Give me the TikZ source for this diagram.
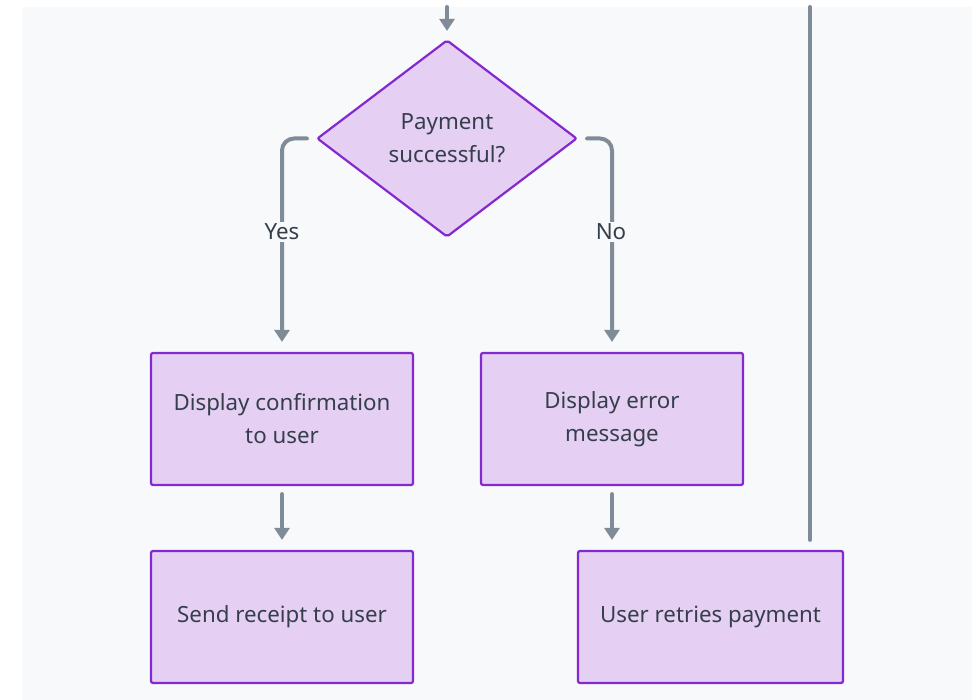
\documentclass[tikz,border=0pt]{standalone}
\usepackage{fontspec}
\setmainfont{Noto Sans}
\usetikzlibrary{arrows.meta,shapes.geometric,calc}
\definecolor{panel}{HTML}{F8F9FA}
\definecolor{nodefill}{HTML}{E5D0F4}
\definecolor{nodeline}{HTML}{8428D0}
\definecolor{edge}{HTML}{7F8B97}
\definecolor{txt}{HTML}{353E4B}
\tikzset{
  box/.style={draw=nodeline,fill=nodefill,line width=2.2pt,rounded corners=2pt,
    minimum width=262pt,minimum height=132pt,inner sep=0pt,align=center,
    text=txt,font=\fontsize{22.3}{33}\selectfont},
  decision/.style={draw=nodeline,fill=nodefill,line width=2.2pt,diamond,
    minimum width=260pt,minimum height=197pt,inner sep=0pt,align=center,aspect=1.32,
    text=txt,font=\fontsize{22.3}{33}\selectfont,rounded corners=2pt},
  conn/.style={draw=edge,line width=4pt,line cap=round,rounded corners=12pt},
  arr/.style={conn,-{Triangle[length=12pt,width=15pt]}},
  lbl/.style={fill=panel,text=txt,font=\fontsize{22.3}{24}\selectfont,inner sep=2pt}
}
\begin{document}
\begin{tikzpicture}[x=1pt,y=-1pt]
\useasboundingbox (0,0) rectangle (980,700);
\fill[panel] (22,7) rectangle (972,700);
\node[decision] (d) at (447,138.5) {Payment\\successful?};
\node[box] (b1) at (282,419) {Display confirmation\\to user};
\node[box] (b2) at (612,419) {Display error\\message};
\node[box] (b3) at (282,617) {Send receipt to user};
\node[box,minimum width=265pt] (b4) at (710.5,617) {User retries payment};
\coordinate (top) at (447,7);
\coordinate (loopend) at (810,7);
\draw[arr,shorten >=8pt] (top) -- (d.north);
\draw[arr,shorten >=10pt] ([xshift=-9pt]d.west) -| (b1.north);
\draw[arr,shorten >=10pt] ([xshift=9pt]d.east) -| (b2.north);
\node[lbl] (yes) at (282,232) {Yes};
\node[lbl] (no) at (611,232) {No};
\draw[arr,shorten <=8pt,shorten >=10pt] (b1.south) -- (b3.north);
\draw[arr,shorten <=8pt,shorten >=10pt] (b2.south) -- (b2.south |- b4.north);
\draw[conn,shorten <=10pt] ([xshift=99.5pt]b4.north) -- (loopend);
\end{tikzpicture}
\end{document}
